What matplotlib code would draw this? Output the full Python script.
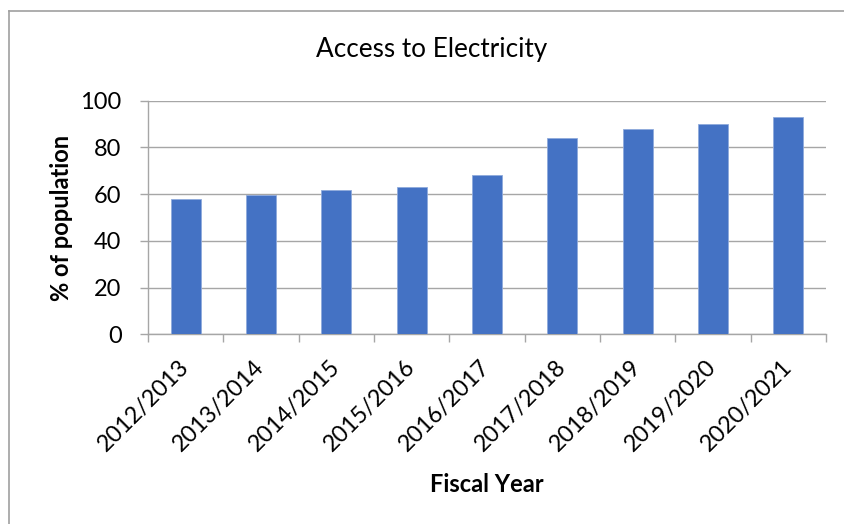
import matplotlib
matplotlib.use("Agg")
import matplotlib.pyplot as plt
from matplotlib.lines import Line2D
import numpy as np

categories = ["2012/2013", "2013/2014", "2014/2015", "2015/2016", "2016/2017",
              "2017/2018", "2018/2019", "2019/2020", "2020/2021"]
values = [57.8, 59.6, 61.9, 63.1, 68.3, 84.0, 88.0, 90.2, 93.0]
yticks = [0, 20, 40, 60, 80, 100]

plt.rcParams['font.family'] = ['Lato', 'DejaVu Sans']

W, H = 845, 524
fig = plt.figure(figsize=(W / 100, H / 100), dpi=100)
ax = fig.add_axes([148 / W, 1 - 334.3 / H, (826 - 148) / W, (334.3 - 100.7) / H])

grid_c = '#a6a6a6'
x = np.arange(len(categories))
ax.bar(x, values, width=0.4, color='#4472C4', edgecolor='#8faadc', linewidth=0.6, zorder=3)

ax.set_xlim(-0.5, len(categories) - 0.5)
ax.set_ylim(0, 100)
ax.set_yticks(yticks)
ax.set_yticklabels([str(v) for v in yticks], fontsize=17)
ax.yaxis.grid(True, color=grid_c, linewidth=1.0, zorder=0)
ax.tick_params(axis='y', length=6, width=1, color=grid_c, pad=13)

ax.set_xticks(x)
ax.set_xticklabels(categories, fontsize=16.8, rotation=45, ha='right', rotation_mode='anchor', va='center')
ax.set_xticks(np.arange(-0.5, len(categories)), minor=True)
ax.tick_params(axis='x', which='major', length=0, pad=21)
ax.tick_params(axis='x', which='minor', length=6, width=1, color=grid_c)

for s in ['top', 'right']:
    ax.spines[s].set_visible(False)
for s in ['left', 'bottom']:
    ax.spines[s].set_color(grid_c)
    ax.spines[s].set_linewidth(1.0)
ax.set_axisbelow(True)

fig.text(432 / W, 1 - 50 / H, "Access to Electricity", fontsize=18.8, ha='center', va='center')
fig.text(487 / W, 1 - 485 / H, "Fiscal Year", fontsize=17, fontweight='bold', ha='center', va='center')
fig.text(62 / W, 1 - 218 / H, "% of population", fontsize=17, fontweight='bold', ha='center', va='center', rotation=90)

fig.add_artist(Line2D([9 / W, 1], [1 - 11 / H, 1 - 11 / H], color='#a0a0a0', linewidth=1.2, transform=fig.transFigure))
fig.add_artist(Line2D([9 / W, 9 / W], [0, 1 - 11 / H], color='#a0a0a0', linewidth=1.2, transform=fig.transFigure))

fig.savefig("out.png", dpi=100)
